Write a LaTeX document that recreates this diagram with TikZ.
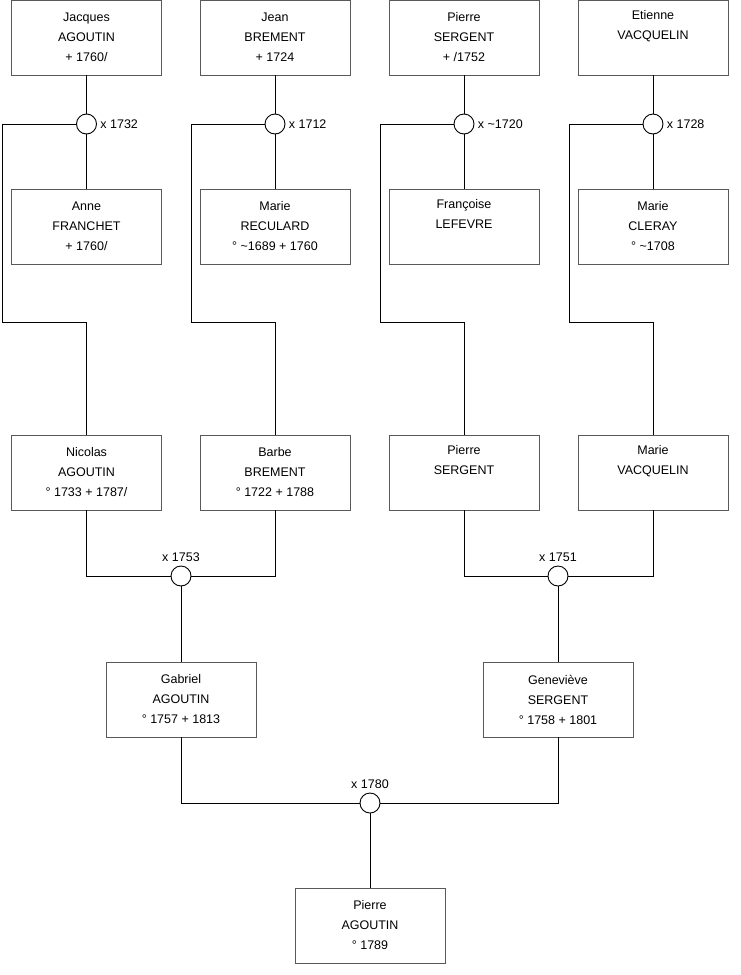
\documentclass[tikz,border=0pt]{standalone}
\usepackage{fontspec}
\setmainfont{Liberation Sans}
\usepackage{tikz}
\usetikzlibrary{positioning}

\tikzset{
    person/.style={draw=black!65, fill=white, minimum width=150pt, minimum height=75pt,
        inner sep=0pt, align=center, font=\fontsize{12.5}{20}\selectfont},
    wed/.style={draw, circle, fill=white, minimum size=20pt, inner sep=0pt},
    wedlabel/.style={font=\fontsize{12.5}{14}\selectfont, inner sep=1pt},
}

\begin{document}
\begin{tikzpicture}[x=1pt, y=-1pt, line width=0.9pt]
    \useasboundingbox (0,0) rectangle (740,975);

    % Great-grandparents
    \node[person] (jacques)   at (86.5,37.5)  {Jacques\\AGOUTIN\\+ 1760/};
    \node[person] (anne)      at (86.5,226.5) {Anne\\FRANCHET\\+ 1760/};
    \node[person] (jean)      at (275,37.5) {Jean\\BREMENT\\+ 1724};
    \node[person] (marieR)    at (275,226.5) {Marie\\RECULARD\\° \textasciitilde1689 + 1760};
    \node[person] (pierreS)   at (464,37.5) {Pierre\\SERGENT\\+ /1752};
    \node[person] (francoise) at (464,226.5) {Françoise\\LEFEVRE\\\strut};
    \node[person] (etienne)   at (653,37.5) {Etienne\\VACQUELIN\\\strut};
    \node[person] (marieC)    at (653,226.5) {Marie\\CLERAY\\° \textasciitilde1708};

    % Marriages of the first generation
    \node[wed] (wedA) at (86.5,124) {};
    \node[wed] (wedB) at (275,124) {};
    \node[wed] (wedC) at (464,124) {};
    \node[wed] (wedD) at (653,124) {};
    \node[wedlabel, right=2pt of wedA] {x 1732};
    \node[wedlabel, right=2pt of wedB] {x 1712};
    \node[wedlabel, right=2pt of wedC] {x \textasciitilde1720};
    \node[wedlabel, right=2pt of wedD] {x 1728};

    % Grandparents
    \node[person] (nicolas) at (86.5,472.5)  {Nicolas\\AGOUTIN\\° 1733 + 1787/};
    \node[person] (barbe)   at (275,472.5) {Barbe\\BREMENT\\° 1722 + 1788};
    \node[person] (pierreT) at (464,472.5) {Pierre\\SERGENT\\\strut};
    \node[person] (marieV)  at (653,472.5) {Marie\\VACQUELIN\\\strut};

    % Bends of the descent lines
    \coordinate (bendA) at (2,322);
    \coordinate (bendB) at (191,322);
    \coordinate (bendC) at (380,322);
    \coordinate (bendD) at (569,322);

    % Couples and descent
    \foreach \f/\m/\w/\b/\c in {jacques/anne/wedA/bendA/nicolas, jean/marieR/wedB/bendB/barbe,
                               pierreS/francoise/wedC/bendC/pierreT, etienne/marieC/wedD/bendD/marieV}
    {
        \draw (\f.south) -- (\w.north);
        \draw (\w.south) -- (\m.north);
        \draw (\w.west) -| (\b) -| (\c.north);
    }

    % Marriages of the second generation
    \node[wed] (wedE) at (181,576) {};
    \node[wed] (wedF) at (558,576) {};
    \node[wedlabel, above=2pt of wedE] {x 1753};
    \node[wedlabel, above=2pt of wedF] {x 1751};

    % Parents
    \node[person] (gabriel)   at (181,699.5) {Gabriel\\AGOUTIN\\° 1757 + 1813};
    \node[person] (genevieve) at (558,699.5) {Geneviève\\SERGENT\\° 1758 + 1801};

    \draw (nicolas.south) |- (wedE.west);
    \draw (barbe.south) |- (wedE.east);
    \draw (wedE.south) -- (gabriel.north);
    \draw (pierreT.south) |- (wedF.west);
    \draw (marieV.south) |- (wedF.east);
    \draw (wedF.south) -- (genevieve.north);

    % Last marriage and child
    \node[wed] (wedG) at (370,803) {};
    \node[wedlabel, above=2pt of wedG] {x 1780};
    \node[person] (pierreA) at (370,925.5) {Pierre\\AGOUTIN\\° 1789};

    \draw (gabriel.south) |- (wedG.west);
    \draw (genevieve.south) |- (wedG.east);
    \draw (wedG.south) -- (pierreA.north);
\end{tikzpicture}
\end{document}
